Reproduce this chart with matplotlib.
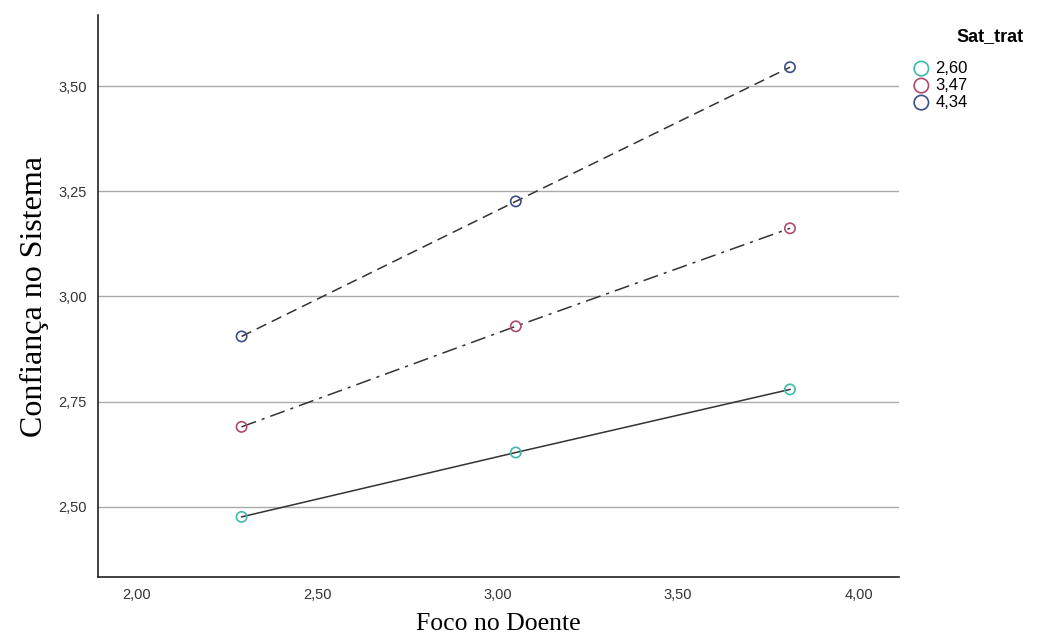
import numpy as np
import matplotlib.pyplot as plt

# data
foco = [2.29, 3.05, 3.81]
groups = ["2,60", "3,47", "4,34"]
conf_260 = [2.476, 2.629, 2.779]
conf_347 = [2.690, 2.929, 3.162]
conf_434 = [2.905, 3.226, 3.545]

colors = ["#3dbaa8", "#b04a6c", "#3d4e88"]
styles = ["-", (0, (10, 4, 2, 4)), (0, (7, 4))]
series = [conf_260, conf_347, conf_434]

plt.rcParams["font.family"] = ["Liberation Sans", "DejaVu Sans"]

fig = plt.figure(figsize=(10.37, 6.35), dpi=100)
ax = fig.add_axes([0.0945, 0.0913, 0.772, 0.885])

for vals, col, ls, g in zip(series, colors, styles, groups):
    ax.plot(foco, vals, color="#333333", linestyle=ls, linewidth=1.1, zorder=2)
    ax.scatter(foco, vals, s=55, facecolors="none", edgecolors=col,
               linewidths=1.2, zorder=3, label=g)

ax.set_xlim(1.892, 4.111)
ax.set_ylim(2.333, 3.669)
ax.set_xticks([2.0, 2.5, 3.0, 3.5, 4.0])
ax.set_xticklabels(["2,00", "2,50", "3,00", "3,50", "4,00"])
ax.set_yticks([2.5, 2.75, 3.0, 3.25, 3.5])
ax.set_yticklabels(["2,50", "2,75", "3,00", "3,25", "3,50"])
ax.tick_params(length=0, labelsize=10.5, colors="#333333", pad=8)
ax.yaxis.grid(True, color="#aaaaaa", linewidth=1)
ax.set_axisbelow(True)
for s in ["top", "right"]:
    ax.spines[s].set_visible(False)
for s in ["left", "bottom"]:
    ax.spines[s].set_color("#222222")
    ax.spines[s].set_linewidth(1.2)

ax.set_xlabel("Foco no Doente", family="Liberation Serif", fontsize=18.5, labelpad=8)
ax.set_ylabel("Confiança no Sistema", family="Liberation Serif", fontsize=23, labelpad=7)

fig.text(0.955, 0.942, "Sat_trat", fontsize=13, fontweight="bold", ha="center", va="center")
leg = ax.legend(loc="upper left", bbox_to_anchor=(0.878, 0.904),
                bbox_transform=fig.transFigure, frameon=False, fontsize=12,
                handletextpad=0.2, labelspacing=0.12, borderaxespad=0,
                borderpad=0, markerscale=1.4, handlelength=1.3)

fig.savefig("out.png", dpi=100)
